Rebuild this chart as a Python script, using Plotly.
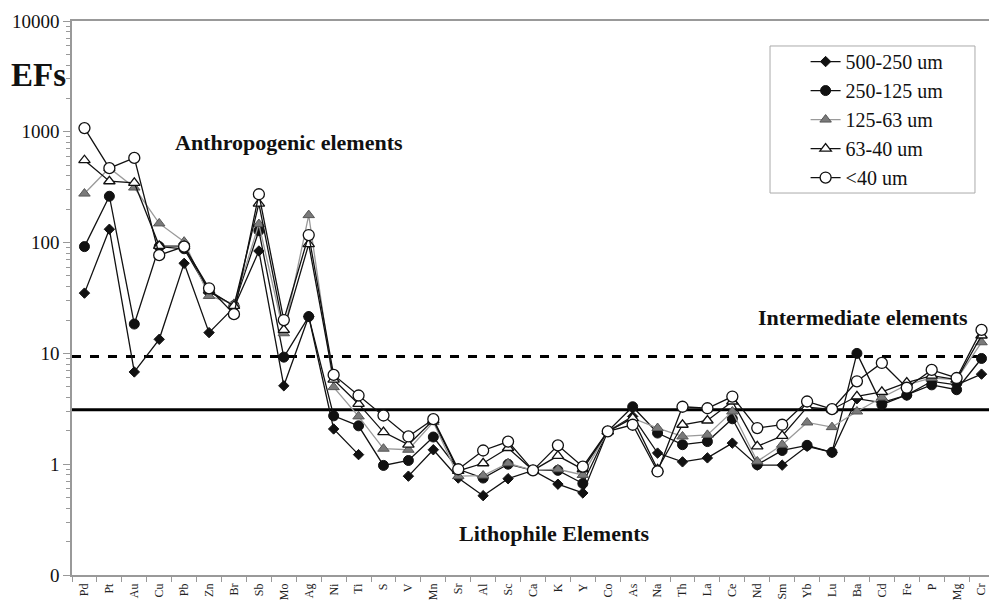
import plotly.graph_objects as go

elements = ["Pd", "Pt", "Au", "Cu", "Pb", "Zn", "Br", "Sb", "Mo", "Ag", "Ni", "Ti", "S", "V", "Mn",
            "Sr", "Al", "Sc", "Ca", "K", "Y", "Co", "As", "Na", "Th", "La", "Ce", "Nd", "Sm", "Yb",
            "Lu", "Ba", "Cd", "Fe", "P", "Mg", "Cr"]

ef_500_250 = [35, 132, 6.8, 13.4, 65, 15.4, 26, 84, 5.1, 21.5, 2.08, 1.22, None, 0.78, 1.35,
              0.75, 0.52, 0.74, 0.88, 0.66, 0.55, 1.98, 2.7, 1.26, 1.05, 1.14, 1.55, 0.98, 0.98, 1.45,
              1.28, 3.9, 3.6, 4.2, 5.6, 5.2, 6.5]
ef_250_125 = [92, 262, 18.4, 92, 88, 36, 27, 128, 9.25, 21.5, 2.73, 2.22, 0.975, 1.08, 1.76,
              0.9, 0.75, 1.0, 0.88, 0.88, 0.67, 1.98, 3.3, 1.91, 1.5, 1.6, 2.57, 0.99, 1.33, 1.48,
              1.28, 10.0, 3.45, 4.2, 5.2, 4.7, 9.0]
ef_125_63 = [277, 472, 314, 149, 102, 33, 28, 147, 15.2, 177, 4.96, 2.7, 1.38, 1.35, 2.4,
             0.78, 0.79, 1.02, 0.88, 0.9, 0.8, 1.98, 2.6, 2.12, 1.78, 1.84, 2.99, 1.06, 1.5, 2.38,
             2.16, 2.99, 4.0, 5.2, 6.0, 5.8, 12.6]
ef_63_40 = [554, 358, 346, 93.6, 93, 36.9, 26.8, 225, 16.3, 97, 5.8, 3.5, 1.95, 1.5, 2.5,
            0.87, 1.02, 1.4, 0.88, 1.19, 0.9, 1.98, 2.6, 0.9, 2.27, 2.48, 3.68, 1.45, 1.8, 3.27,
            3.12, 4.1, 4.5, 5.46, 6.3, 5.8, 14.5]
ef_lt40 = [1080, 470, 581, 77, 92, 38.7, 22.6, 273, 20, 117, 6.4, 4.17, 2.75, 1.78, 2.55,
           0.9, 1.33, 1.6, 0.88, 1.48, 0.95, 1.98, 2.27, 0.86, 3.3, 3.2, 4.08, 2.12, 2.27, 3.68,
           3.14, 5.6, 8.2, 4.9, 7.1, 6.0, 16.3]

series_names = ["500-250 um", "250-125 um", "125-63 um", "63-40 um", "<40 um"]
threshold_high = 9.4
threshold_low = 3.1

y_tickvals = [0.1, 1, 10, 100, 1000, 10000]
y_ticktext = ["0", "1", "10", "100", "1000", "10000"]

SERIF = "Liberation Serif"

fig = go.Figure()

styles = [
    dict(line=dict(color="#111", width=1.3),
         marker=dict(symbol="diamond", size=8, color="#111", line=dict(color="#111", width=1))),
    dict(line=dict(color="#111", width=1.3),
         marker=dict(symbol="circle", size=10, color="#111", line=dict(color="#111", width=1))),
    dict(line=dict(color="#9a9a9a", width=1.3),
         marker=dict(symbol="triangle-up", size=10, color="#7a7a7a", line=dict(color="#555", width=1))),
    dict(line=dict(color="#111", width=1.3),
         marker=dict(symbol="triangle-up", size=10, color="white", line=dict(color="#111", width=1.3))),
    dict(line=dict(color="#111", width=1.3),
         marker=dict(symbol="circle", size=11, color="white", line=dict(color="#111", width=1.3))),
]

for name, vals, st in zip(series_names, [ef_500_250, ef_250_125, ef_125_63, ef_63_40, ef_lt40], styles):
    fig.add_trace(go.Scatter(x=elements, y=vals, name=name, mode="lines+markers",
                             line=st["line"], marker=st["marker"], connectgaps=False,
                             cliponaxis=False))

fig.add_shape(type="line", xref="paper", x0=0, x1=1, yref="y",
              y0=threshold_high, y1=threshold_high,
              line=dict(color="black", width=3, dash="dash"), layer="below")
fig.add_shape(type="line", xref="paper", x0=0, x1=1, yref="y",
              y0=threshold_low, y1=threshold_low,
              line=dict(color="black", width=3), layer="below")

# legend frame
fig.add_shape(type="rect", xref="paper", yref="paper", x0=0.7612, x1=0.9847, y0=0.6895, y1=0.9549,
              fillcolor="white", line=dict(color="#aaa", width=1), layer="above")

ann_font = dict(family=SERIF, size=22, color="#111")
fig.add_annotation(text="<b>Anthropogenic elements</b>", xref="paper", yref="paper",
                   x=0.2366, y=0.78, xanchor="center", yanchor="middle", showarrow=False, font=ann_font)
fig.add_annotation(text="<b>Intermediate elements</b>", xref="paper", yref="paper",
                   x=0.8626, y=0.4657, xanchor="center", yanchor="middle", showarrow=False, font=ann_font)
fig.add_annotation(text="<b>Lithophile Elements</b>", xref="paper", yref="paper",
                   x=0.5267, y=0.0758, xanchor="center", yanchor="middle", showarrow=False, font=ann_font)
fig.add_annotation(text="<b>EFs</b>", xref="paper", yref="paper",
                   x=-0.037, y=0.903, xanchor="center", yanchor="middle", showarrow=False,
                   font=dict(family=SERIF, size=33, color="#111"))

minor_vals = [k * 10.0 ** e for e in range(-1, 4) for k in range(2, 10)]

fig.update_layout(
    width=989, height=601,
    margin=dict(l=72, r=0, t=21, b=26, autoexpand=False),
    paper_bgcolor="white", plot_bgcolor="white",
    showlegend=True,
    legend=dict(x=0.80, y=0.962, xanchor="left", yanchor="top",
                bgcolor="rgba(0,0,0,0)", borderwidth=0,
                font=dict(family=SERIF, size=20, color="#111"),
                itemwidth=30),
    xaxis=dict(type="category", range=[-0.5, 36.3], showline=True, linecolor="#999",
               linewidth=1.5, mirror=True, ticks="outside", tickson="boundaries",
               ticklen=5, tickcolor="#999", tickangle=-90, showgrid=False,
               ticklabelstandoff=2, automargin=False,
               tickfont=dict(family=SERIF, size=12, color="#222")),
    yaxis=dict(type="log", range=[-1, 4], showline=True, linecolor="#999", linewidth=1.5,
               tickvals=y_tickvals, ticktext=y_ticktext, ticks="outside", ticklen=7,
               tickcolor="#999", showgrid=False, zeroline=False, automargin=False,
               tickfont=dict(family=SERIF, size=19, color="#111"),
               minor=dict(tickvals=minor_vals, ticks="outside", ticklen=4, tickcolor="#999",
                          showgrid=False)),
)

fig.write_html("out.html")
